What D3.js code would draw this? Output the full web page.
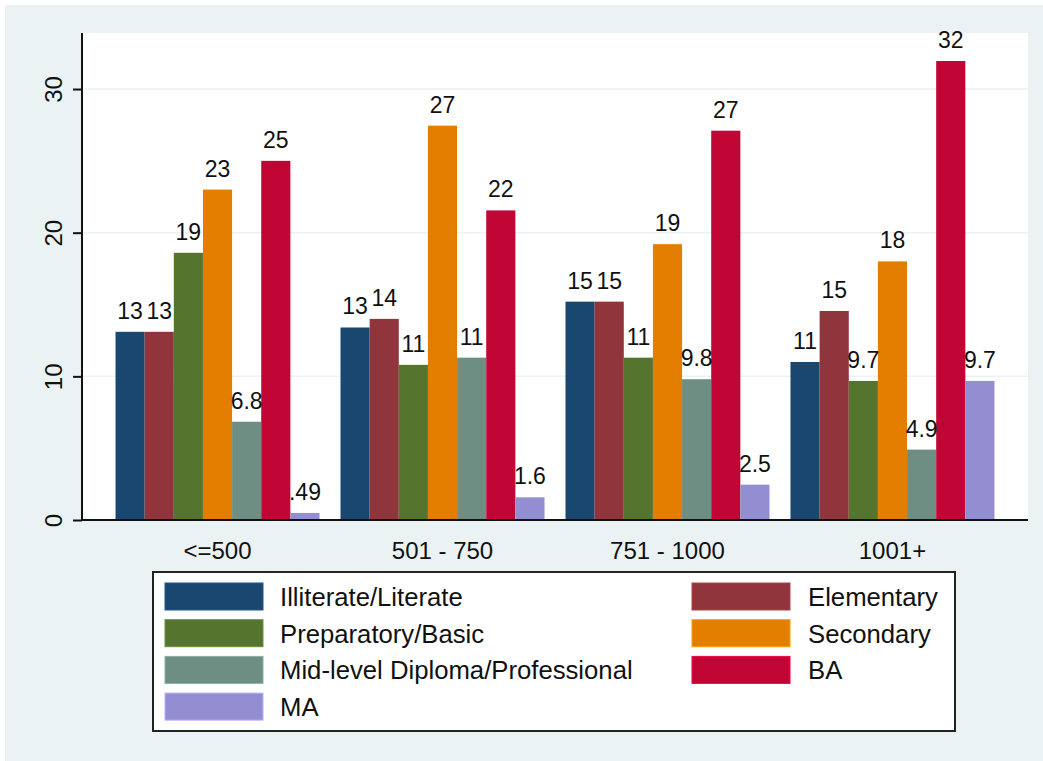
<!DOCTYPE html>
<html>
<head>
<meta charset="utf-8">
<script src="https://cdn.jsdelivr.net/npm/d3@7"></script>
<style>
  body { margin: 0; background: #fff; }
  svg { display: block; font-family: "Liberation Sans", Arial, sans-serif; }
</style>
</head>
<body>
<svg id="chart" width="1043" height="761"></svg>
<script>
// income groups along the x axis
const categories = ['<=500', '501 - 750', '751 - 1000', '1001+'];

// education levels (one bar each per group)
const seriesNames = ['Illiterate/Literate', 'Elementary', 'Preparatory/Basic', 'Secondary',
  'Mid-level Diploma/Professional', 'BA', 'MA'];
const seriesColors = ['#1a476f', '#90353b', '#55752f', '#e37e00', '#6e8e84', '#c10534', '#938dd2'];

// percentages
const illiterate = [13.1, 13.4, 15.2, 11.0];
const elementary = [13.1, 14.0, 15.2, 14.55];
const preparatory = [18.6, 10.8, 11.3, 9.68];
const secondary = [23.0, 27.45, 19.2, 18.0];
const midlevel = [6.84, 11.3, 9.8, 4.9];
const ba = [25.0, 21.55, 27.1, 31.95];
const ma = [0.49, 1.58, 2.46, 9.68];

const yTicks = [0, 10, 20, 30];

const seriesValues = [illiterate, elementary, preparatory, secondary, midlevel, ba, ma];

const svg = d3.select('#chart');
const W = 1043, H = 761;
const plot = {left: 82, right: 1028, top: 33, bottom: 520};

// graph region background
svg.append('rect').attr('x', 5).attr('y', 5).attr('width', W - 5).attr('height', H - 5)
  .attr('fill', '#eaf2f3');
svg.append('rect').attr('x', plot.left).attr('y', plot.top)
  .attr('width', plot.right - plot.left).attr('height', plot.bottom - plot.top)
  .attr('fill', '#fff');

const x0 = d3.scaleBand().domain(categories)
  .range([plot.left, plot.right]).paddingInner(0.0933).paddingOuter(0.149);
const x1 = d3.scaleBand().domain(seriesNames).range([0, x0.bandwidth()]);
const y = d3.scaleLinear().domain([0, 33.9]).range([plot.bottom, plot.top]);

// grid lines
svg.append('g').selectAll('line').data(yTicks.filter(t => t > 0)).join('line')
  .attr('x1', plot.left).attr('x2', plot.right)
  .attr('y1', d => y(d)).attr('y2', d => y(d))
  .attr('stroke', '#eaf2f3').attr('stroke-width', 1.5);

const fmt = v => d3.format('.2')(v).replace(/^0\./, '.');

const data = [];
categories.forEach((c, i) => {
  seriesNames.forEach((s, j) => {
    data.push({cat: c, series: s, value: seriesValues[j][i], color: seriesColors[j]});
  });
});

svg.append('g').selectAll('rect').data(data).join('rect')
  .attr('x', d => x0(d.cat) + x1(d.series))
  .attr('y', d => y(d.value))
  .attr('width', x1.bandwidth())
  .attr('height', d => y(0) - y(d.value))
  .attr('fill', d => d.color);

svg.append('g').selectAll('text').data(data).join('text')
  .attr('x', d => x0(d.cat) + x1(d.series) + x1.bandwidth() / 2)
  .attr('y', d => y(d.value) - 13)
  .attr('text-anchor', 'middle')
  .attr('font-size', 23)
  .attr('fill', '#111')
  .text(d => fmt(d.value));

// y axis
const yAxis = svg.append('g')
  .attr('transform', 'translate(' + plot.left + ',0)')
  .call(d3.axisLeft(y).tickValues(yTicks).tickSize(9).tickPadding(11).tickSizeOuter(0));
yAxis.select('.domain').attr('stroke', '#111').attr('stroke-width', 2)
  .attr('d', 'M0,' + plot.top + 'V' + plot.bottom);
yAxis.selectAll('.tick line').attr('stroke', '#111').attr('stroke-width', 2);
yAxis.selectAll('.tick text')
  .attr('font-size', 24).attr('fill', '#111')
  .attr('font-family', '"Liberation Sans", Arial, sans-serif')
  .attr('transform', 'rotate(-90)')
  .attr('x', 0).attr('y', -20).attr('dy', 0)
  .attr('text-anchor', 'middle');

// x axis
const xAxis = svg.append('g')
  .attr('transform', 'translate(0,' + plot.bottom + ')')
  .call(d3.axisBottom(x0).tickSize(0).tickPadding(0).tickSizeOuter(0));
xAxis.select('.domain').attr('stroke', '#111').attr('stroke-width', 2)
  .attr('d', 'M' + plot.left + ',0H' + plot.right);
xAxis.selectAll('.tick text')
  .attr('font-size', 24).attr('fill', '#111')
  .attr('font-family', '"Liberation Sans", Arial, sans-serif')
  .attr('y', 39).attr('dy', 0);

// legend
const legend = svg.append('g');
legend.append('rect').attr('x', 153).attr('y', 572).attr('width', 802).attr('height', 159)
  .attr('fill', '#fff').attr('stroke', '#222').attr('stroke-width', 2);

const legendCols = [165, 692];
const rowTop = 583, rowStep = 36.7, swW = 98, swH = 27;
const items = legend.selectAll('g.item').data(seriesNames).join('g')
  .attr('class', 'item')
  .attr('transform', (d, i) => 'translate(' + legendCols[i % 2] + ',' + (rowTop + Math.floor(i / 2) * rowStep) + ')');
items.append('rect').attr('width', swW).attr('height', swH)
  .attr('fill', (d, i) => seriesColors[i])
  .attr('stroke', (d, i) => d3.color(seriesColors[i]).brighter(0.6)).attr('stroke-width', 1);
items.append('text')
  .attr('x', (d, i) => i % 2 === 0 ? 115 : 116)
  .attr('y', swH / 2 + 9.3)
  .attr('font-size', 25.7).attr('fill', '#111')
  .text(d => d);
</script>
</body>
</html>
